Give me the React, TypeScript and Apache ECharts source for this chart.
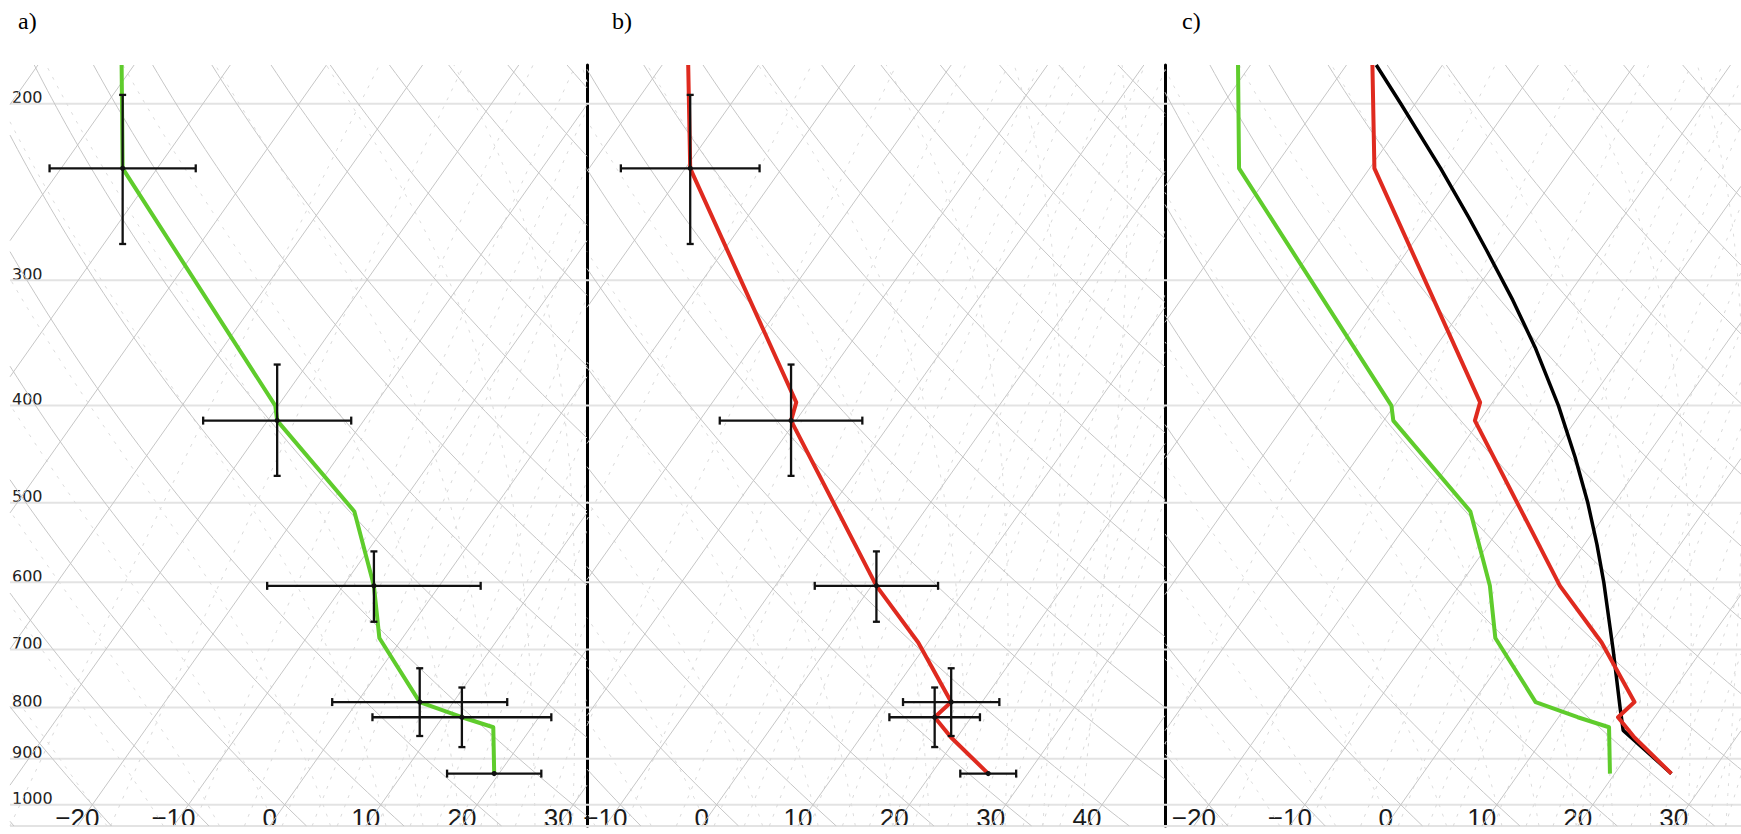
import React, { useEffect, useRef } from "react";
import * as echarts from "echarts";

// ---- diagram frame ----
const P_TOP = 183;
const P_BOT = 1050;
const SKEW = 32; // degC of isotherm shift per unit ln(p)

const pressureLabels = [200, 300, 400, 500, 600, 700, 800, 900, 1000];
const isobarLevels = [200, 300, 400, 500, 600, 700, 800, 900, 1000, 1050];
const temperatureLabels = [-30, -20, -10, 0, 10, 20, 30, 40];
const panelNames = ["a)", "b)", "c)"];
const panelMin = [-27, -11.9, -23];
const panelMax = [33, 48.1, 37];

// background reference lines (degC / g per kg)
const isothermValues = [-120, -110, -100, -90, -80, -70, -60, -50, -40, -30, -20, -10, 0, 10, 20, 30, 40, 50];
const dryAdiabatThetas = [-40, -30, -20, -10, 0, 10, 20, 30, 40, 50, 60, 70, 80, 90, 100, 110, 120, 130, 140, 150, 160, 170, 180];
const moistAdiabatThetaW = [-20, -14, -8, -2, 4, 10, 14, 18, 22, 26, 30, 34, 38];
const mixingRatios = [0.4, 1, 2, 3, 4, 5, 6, 8, 10, 12, 14, 16, 20, 24, 28, 32, 36, 40];

// ---- sounding data (hPa, degC) ----
const dewP = [183, 232, 400, 414, 510, 605, 682, 790, 818, 837, 931];
const dewT = [-71.3, -63.6, -30.3, -29.0, -14.3, -6.8, -2.4, 6.5, 12.0, 16.0, 19.5];

const tempP = [183, 232, 397, 414, 605, 689, 790, 818, 857, 931];
const tempT = [-57.3, -49.5, -21.3, -20.5, 0.5, 9.0, 16.8, 16.2, 19.4, 25.9];

const parcelP = [183, 200, 232, 260, 280, 314, 350, 400, 450, 500, 550, 600, 700, 800, 843, 931];
const parcelT = [-56.9, -51.5, -42.6, -36.0, -31.8, -25.4, -19.6, -12.9, -7.4, -2.7, 1.3, 4.8, 10.7, 15.7, 17.7, 25.9];

// error crosses
const crossP = [232, 414, 605, 790, 818, 931];
const crossPLow = [196, 364, 559, 731, 764, 931];
const crossPHigh = [276, 470, 657, 854, 876, 931];
const dewCrossT = [-63.6, -29.0, -6.8, 6.5, 12.0, 19.5];
const dewCrossErr = [7.6, 7.7, 11.1, 9.1, 9.3, 4.9];
const tempCrossT = [-49.5, -20.5, 0.5, 16.8, 16.2, 25.9];
const tempCrossErr = [7.2, 7.4, 6.4, 5.0, 4.7, 2.9];

const GREEN = "#5fcc2c";
const RED = "#df2a1f";

const skewX = (T: number, p: number) => T + SKEW * Math.log(P_BOT / p);

function pressureSamples(n: number): number[] {
  const out: number[] = [];
  const a = Math.log(P_BOT), b = Math.log(P_TOP);
  for (let i = 0; i <= n; i++) out.push(Math.exp(a + (b - a) * (i / n)));
  return out;
}

type Pt = [number, number];

function clipLine(pts: Pt[], lo: number, hi: number): Pt[][] {
  const out: Pt[][] = [];
  let cur: Pt[] = [];
  const flush = () => {
    if (cur.length > 1) out.push(cur);
    cur = [];
  };
  for (let i = 0; i < pts.length - 1; i++) {
    const [x0, p0] = pts[i];
    const [x1, p1] = pts[i + 1];
    const dx = x1 - x0;
    let t0 = 0, t1 = 1;
    if (Math.abs(dx) < 1e-12) {
      if (x0 < lo || x0 > hi) { flush(); continue; }
    } else {
      let ta = (lo - x0) / dx, tb = (hi - x0) / dx;
      if (ta > tb) { const s = ta; ta = tb; tb = s; }
      t0 = Math.max(0, ta); t1 = Math.min(1, tb);
      if (t0 > t1) { flush(); continue; }
    }
    const l0 = Math.log(p0), l1 = Math.log(p1);
    const A: Pt = [x0 + dx * t0, Math.exp(l0 + (l1 - l0) * t0)];
    const B: Pt = [x0 + dx * t1, Math.exp(l0 + (l1 - l0) * t1)];
    if (cur.length === 0) cur.push(A);
    cur.push(B);
    if (t1 < 1) flush();
  }
  flush();
  return out;
}

const PS = pressureSamples(90);

function isotherm(T: number): Pt[] {
  return [[skewX(T, P_BOT), P_BOT], [skewX(T, P_TOP), P_TOP]];
}
function dryAdiabat(th: number): Pt[] {
  return PS.map((p) => [skewX((th + 273.15) * Math.pow(p / 1000, 0.2857) - 273.15, p), p] as Pt);
}
function moistRate(T: number, p: number): number {
  const Rd = 287.04, cp = 1005.7, Lv = 2.501e6, eps = 0.622;
  const es = 6.112 * Math.exp((17.67 * (T - 273.15)) / (T - 29.65));
  const rs = (eps * es) / Math.max(p - es, 1);
  const num = Rd * T + Lv * rs;
  const den = cp + (Lv * Lv * rs * eps) / (Rd * T * T);
  return num / (den * p);
}
function moistAdiabat(tw: number): Pt[] {
  const up: Pt[] = [];
  let T = tw + 273.15, p = 1000;
  up.push([skewX(T - 273.15, p), p]);
  while (p > P_TOP) {
    const dp = Math.max(-8, P_TOP - p);
    const k1 = moistRate(T, p);
    const k2 = moistRate(T + (k1 * dp) / 2, p + dp / 2);
    T += k2 * dp;
    p += dp;
    up.push([skewX(T - 273.15, p), p]);
  }
  const down: Pt[] = [];
  T = tw + 273.15; p = 1000;
  while (p < P_BOT) {
    const dp = Math.min(8, P_BOT - p);
    const k1 = moistRate(T, p);
    const k2 = moistRate(T + (k1 * dp) / 2, p + dp / 2);
    T += k2 * dp;
    p += dp;
    down.push([skewX(T - 273.15, p), p]);
  }
  return [...down.reverse(), ...up];
}
function mixingLine(wg: number): Pt[] {
  const w = wg / 1000;
  return PS.map((p) => {
    const es = (w * p) / (0.622 + w);
    const l = Math.log(es / 6.112);
    const td = (243.5 * l) / (17.67 - l);
    return [skewX(td, p), p] as Pt;
  });
}

function linesSeries(i: number, curves: Pt[][], style: any, z: number) {
  const data: any[] = [];
  curves.forEach((c) => clipLine(c, panelMin[i], panelMax[i]).forEach((seg) => data.push({ coords: seg })));
  return {
    type: "lines",
    coordinateSystem: "cartesian2d",
    xAxisIndex: i,
    yAxisIndex: i,
    polyline: true,
    silent: true,
    z,
    lineStyle: { opacity: 1, curveness: 0, ...style },
    data,
  };
}

function profileSeries(i: number, ps: number[], ts: number[], color: string, width: number) {
  return {
    type: "line",
    xAxisIndex: i,
    yAxisIndex: i,
    data: ps.map((p, k) => [skewX(ts[k], p), p]),
    showSymbol: false,
    symbol: "none",
    silent: true,
    z: 5,
    lineStyle: { color, width, join: "round" },
  };
}

function crossSeries(i: number, centers: number[], errs: number[]) {
  return {
    type: "custom",
    xAxisIndex: i,
    yAxisIndex: i,
    silent: true,
    z: 6,
    encode: { x: 0, y: 1 },
    data: crossP.map((p, k) => [skewX(centers[k], p), p, errs[k], crossPLow[k], crossPHigh[k]]),
    renderItem: (_params: any, api: any) => {
      const X = api.value(0), p = api.value(1), e = api.value(2), lo = api.value(3), hi = api.value(4);
      const c = api.coord([X, p]);
      const l = api.coord([X - e, p]);
      const r = api.coord([X + e, p]);
      const t = api.coord([X, lo]);
      const b = api.coord([X, hi]);
      const style = { stroke: "#111", lineWidth: 2.3 };
      const children: any[] = [
        { type: "line", shape: { x1: l[0], y1: l[1], x2: r[0], y2: r[1] }, style },
        { type: "line", shape: { x1: l[0], y1: l[1] - 4, x2: l[0], y2: l[1] + 4 }, style },
        { type: "line", shape: { x1: r[0], y1: r[1] - 4, x2: r[0], y2: r[1] + 4 }, style },
      ];
      if (b[1] - t[1] > 2) {
        children.push({ type: "line", shape: { x1: t[0], y1: t[1], x2: b[0], y2: b[1] }, style });
        children.push({ type: "line", shape: { x1: t[0] - 3.5, y1: t[1], x2: t[0] + 3.5, y2: t[1] }, style });
        children.push({ type: "line", shape: { x1: b[0] - 3.5, y1: b[1], x2: b[0] + 3.5, y2: b[1] }, style });
      }
      children.push({ type: "circle", shape: { cx: c[0], cy: c[1], r: 2.6 }, style: { fill: "#111" } });
      return { type: "group", children };
    },
  };
}

const gridLeft = [10, 587, 1165];
const gridWidth = [577, 578, 576];
const GRID_TOP = 65;
const GRID_HEIGHT = 761;

function buildOption() {
  const grids = gridLeft.map((left, i) => ({ left, top: GRID_TOP, width: gridWidth[i], height: GRID_HEIGHT }));
  const xAxes = panelMin.map((mn, i) => ({
    type: "value",
    gridIndex: i,
    min: mn,
    max: panelMax[i],
    axisLine: { show: false, onZero: false },
    axisTick: { show: false },
    splitLine: { show: false },
    axisLabel: {
      inside: true,
      margin: 8,
      verticalAlign: "middle",
      customValues: temperatureLabels.filter((v) => v > mn + 1 && v < panelMax[i] - 1),
      formatter: (v: number) => (v < 0 ? "\u2212" + Math.abs(v) : String(v)),
      fontFamily: "Liberation Sans",
      fontSize: 26,
      color: "#1a1a1a",
    },
  }));
  const yAxes = panelMin.map((_mn, i) => ({
    type: "log",
    logBase: 10,
    gridIndex: i,
    min: P_TOP,
    max: P_BOT,
    inverse: true,
    splitLine: { show: false },
    axisTick: { show: false },
    axisLine: { show: i > 0, onZero: false, lineStyle: { color: "#000", width: 3 } },
    axisLabel:
      i === 0
        ? {
            inside: true,
            margin: 2,
            verticalAlign: "bottom",
            lineHeight: 12,
            customValues: pressureLabels,
            formatter: (v: number) => String(Math.round(v)),
            fontFamily: "DejaVu Sans",
            fontSize: 16,
            color: "#222",
          }
        : { show: false },
  }));

  const series: any[] = [];
  for (let i = 0; i < 3; i++) {
    series.push(
      linesSeries(i, isobarLevels.map((p) => [[panelMin[i] - 1, p], [panelMax[i] + 1, p]] as Pt[]), { color: "#e3e3e3", width: 2 }, 1)
    );
    series.push(linesSeries(i, mixingRatios.map(mixingLine), { color: "#d9d9d9", width: 1, type: [3, 7] }, 1));
    series.push(linesSeries(i, moistAdiabatThetaW.map(moistAdiabat), { color: "#dcdcdc", width: 1, type: [3, 7] }, 1));
    series.push(linesSeries(i, isothermValues.map(isotherm), { color: "#c6c6c6", width: 1 }, 2));
    series.push(linesSeries(i, dryAdiabatThetas.map(dryAdiabat), { color: "#c6c6c6", width: 1 }, 2));
  }
  series.push(profileSeries(0, dewP, dewT, GREEN, 4));
  series.push(crossSeries(0, dewCrossT, dewCrossErr));
  series.push(profileSeries(1, tempP, tempT, RED, 4));
  series.push(crossSeries(1, tempCrossT, tempCrossErr));
  series.push(profileSeries(2, parcelP, parcelT, "#000", 3.5));
  series.push(profileSeries(2, dewP, dewT, GREEN, 4));
  series.push(profileSeries(2, tempP, tempT, RED, 4));

  const labelX = [18, 612, 1182];
  const graphic = panelNames.map((name, i) => ({
    type: "text",
    left: labelX[i],
    top: 9,
    style: { text: name, fontFamily: "Liberation Serif", fontSize: 24, fill: "#000" },
  }));

  return {
    animation: false,
    backgroundColor: "#ffffff",
    grid: grids,
    xAxis: xAxes,
    yAxis: yAxes,
    series,
    graphic,
  };
}

export default function App() {
  const ref = useRef<HTMLDivElement>(null);
  useEffect(() => {
    if (!ref.current) return;
    const chart = echarts.init(ref.current, undefined, { renderer: "svg" });
    chart.setOption(buildOption() as any);
    return () => chart.dispose();
  }, []);
  return (
    <div
      ref={ref}
      style={{ position: "fixed", left: 0, top: 0, width: 1741, height: 834, background: "#fff" }}
    />
  );
}
